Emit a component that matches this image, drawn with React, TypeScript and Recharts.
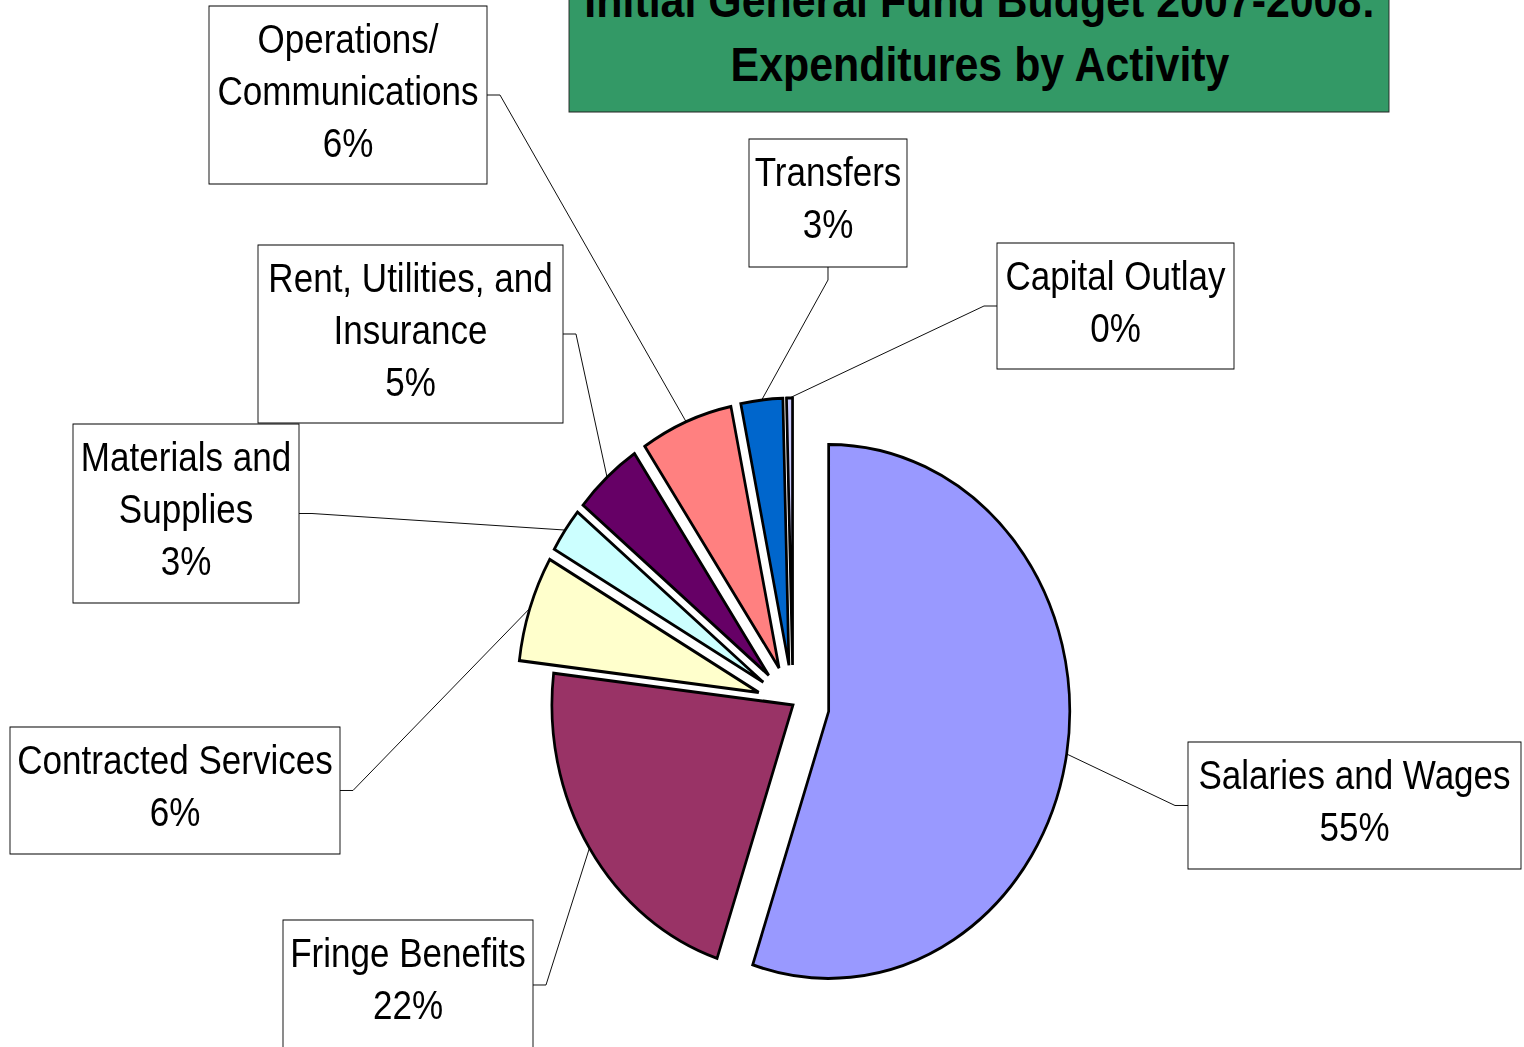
import { PieChart, Pie } from 'recharts';

// budget shares (clockwise from 12 o'clock)
const CATEGORIES = [
  'Salaries and Wages',
  'Fringe Benefits',
  'Contracted Services',
  'Materials and\nSupplies',
  'Rent, Utilities, and\nInsurance',
  'Operations/\nCommunications',
  'Transfers',
  'Capital Outlay',
];
const SHARES = [55.1, 21.8, 6.4, 2.7, 4.6, 6.2, 2.8, 0.4];
const COLORS = ['#9999FF', '#993366', '#FFFFCC', '#CCFFFF', '#660066', '#FF8080', '#0066CC', '#CCCCFF'];

const TITLE_LINES = ['Initial General Fund Budget 2007-2008:', 'Expenditures by Activity'];

// the original picture is squeezed horizontally, so the whole chart is drawn wide and scaled down
const SX = 0.903;
const PAGE_W = 1524;
const PAGE_H = 1047;
const W = PAGE_W / SX;

const EXPLODE = 40;
const NOT_EXPLODED = 'Fringe Benefits';
const FONT = '"Liberation Sans", Arial, sans-serif';

// label boxes in page pixels
const LABEL_BOXES = [
  { x: 1188, y: 742, w: 333, h: 127, side: 'left' },
  { x: 283, y: 920, w: 250, h: 130, side: 'right' },
  { x: 10, y: 727, w: 330, h: 127, side: 'right' },
  { x: 73, y: 424, w: 226, h: 179, side: 'right' },
  { x: 258, y: 245, w: 305, h: 178, side: 'right' },
  { x: 209, y: 6, w: 278, h: 178, side: 'right' },
  { x: 749, y: 139, w: 158, h: 128, side: 'bottom' },
  { x: 997, y: 243, w: 237, h: 126, side: 'left' },
];

const data = CATEGORIES.map((name, i) => ({ name, value: SHARES[i] }));

const RAD = Math.PI / 180;
const polar = (cx: number, cy: number, r: number, a: number) => [
  cx + r * Math.cos(-a * RAD),
  cy + r * Math.sin(-a * RAD),
];

// draws the exploded slice, its box and the leader line
function SliceWithLabel(props: any) {
  const { cx, cy, outerRadius: r, startAngle, endAngle, midAngle, percent, index, name } = props;
  const off = name === NOT_EXPLODED ? 0 : EXPLODE;
  const [ox, oy] = polar(cx, cy, off, midAngle);
  const [sx, sy] = polar(ox, oy, r, startAngle);
  const [ex, ey] = polar(ox, oy, r, endAngle);
  const large = Math.abs(startAngle - endAngle) > 180 ? 1 : 0;
  const path = `M ${ox} ${oy} L ${sx} ${sy} A ${r} ${r} 0 ${large} 1 ${ex} ${ey} Z`;

  const [px, py] = polar(ox, oy, r, midAngle);
  const box = LABEL_BOXES[index];
  const bx = box.x / SX;
  const bw = box.w / SX;
  let ax = 0, ay = 0, kx = 0, ky = 0;
  if (box.side === 'left') {
    ax = bx; ay = box.y + box.h / 2; kx = ax - 13 / SX; ky = ay;
  } else if (box.side === 'right') {
    ax = bx + bw; ay = box.y + box.h / 2; kx = ax + 13 / SX; ky = ay;
  } else {
    ax = bx + bw / 2; ay = box.y + box.h; kx = ax; ky = ay + 13;
  }

  const lines = `${name}\n${Math.round(percent * 100)}%`.split('\n');
  const tx = bx + bw / 2;

  return (
    <g>
      <path d={path} fill={COLORS[index]} stroke="#000" strokeWidth={3} />
      <polyline points={`${ax},${ay} ${kx},${ky} ${px},${py}`} fill="none" stroke="#000" strokeWidth={1} />
      <rect x={bx} y={box.y} width={bw} height={box.h} fill="#fff" stroke="#000" strokeWidth={1} />
      {lines.map((t, i) => (
        <text
          key={i}
          transform={`translate(${tx} ${box.y + 47 + i * 52}) scale(0.97 1)`}
          textAnchor="middle"
          fontFamily={FONT}
          fontSize={40}
          fill="#000"
        >
          {t}
        </text>
      ))}
    </g>
  );
}

export default function App() {
  return (
    <div style={{ position: 'absolute', left: 0, top: 0, width: PAGE_W, height: PAGE_H, overflow: 'hidden', background: '#fff' }}>
      <div style={{ position: 'absolute', left: 0, top: 0, width: W, height: PAGE_H, transform: `scaleX(${SX})`, transformOrigin: '0 0' }}>
        <PieChart width={W} height={PAGE_H} margin={{ top: 0, right: 0, bottom: 0, left: 0 }}>
          <Pie
            data={data}
            dataKey="value"
            nameKey="name"
            cx={793 / SX}
            cy={705}
            outerRadius={267}
            startAngle={90}
            endAngle={-270}
            fill="none"
            stroke="none"
            label={SliceWithLabel}
            labelLine={false}
            isAnimationActive={false}
          />
        </PieChart>
        <svg width={W} height={PAGE_H} style={{ position: 'absolute', left: 0, top: 0, pointerEvents: 'none' }}>
          <rect x={569 / SX} y={-60} width={(1389 - 569) / SX} height={172} fill="#339966" stroke="#222" strokeWidth={1} />
          {TITLE_LINES.map((t, i) => (
            <text
              key={i}
              x={980 / SX}
              y={17 + i * 64}
              textAnchor="middle"
              fontFamily={FONT}
              fontWeight="bold"
              fontSize={47.5}
              fill="#000"
            >
              {t}
            </text>
          ))}
        </svg>
      </div>
    </div>
  );
}
